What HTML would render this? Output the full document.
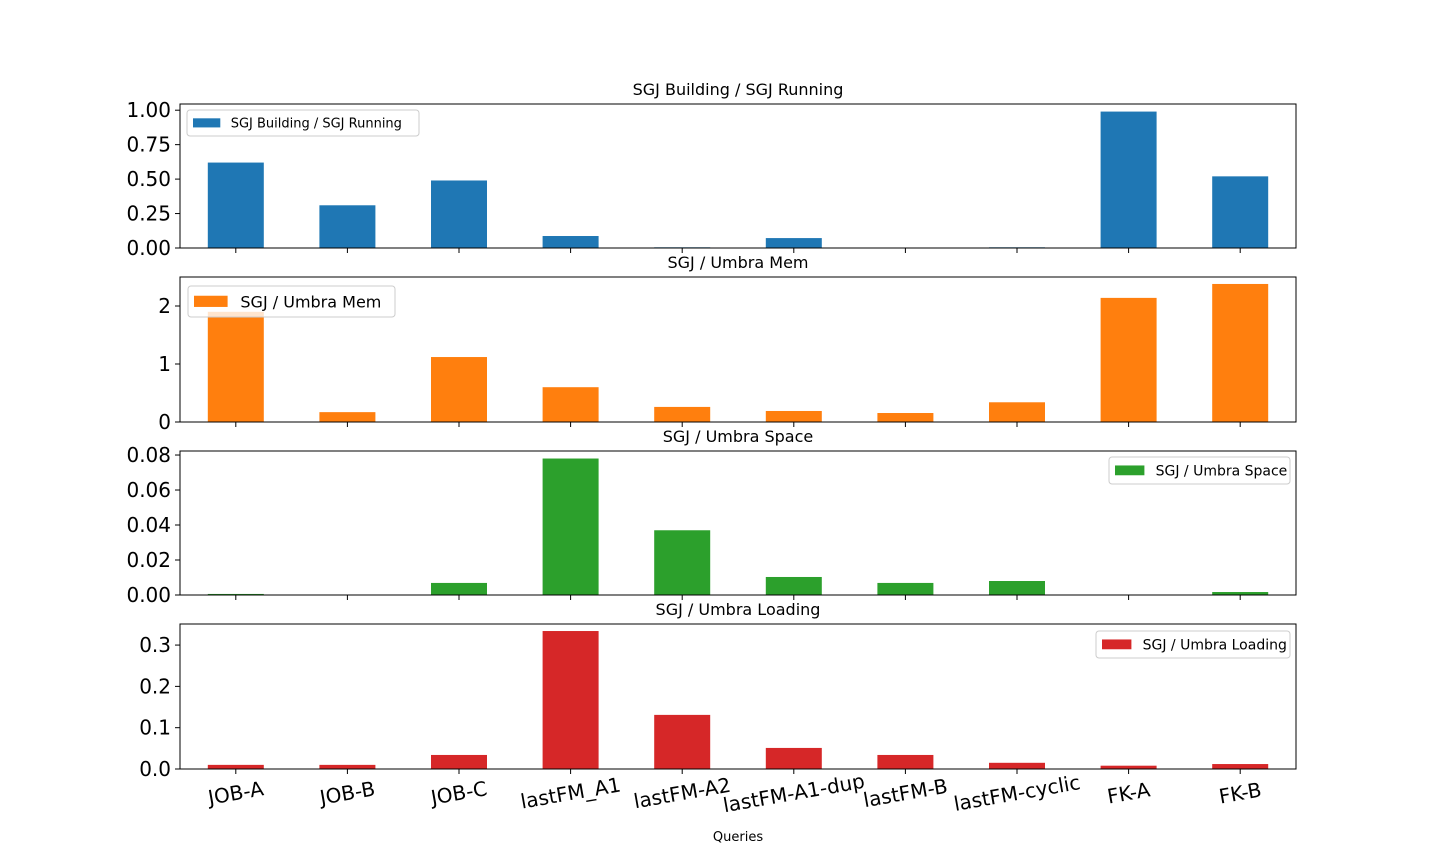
<!DOCTYPE html>
<html><head><meta charset="utf-8"><style>
html,body{margin:0;padding:0;background:#fff}
svg{display:block;font-family:"DejaVu Sans","Liberation Sans",sans-serif}
</style></head><body>
<svg id="chart" width="1440" height="864" viewBox="0 0 1440 864" xmlns="http://www.w3.org/2000/svg"></svg>
<script>
const categories = ["JOB-A","JOB-B","JOB-C","lastFM_A1","lastFM-A2","lastFM-A1-dup","lastFM-B","lastFM-cyclic","FK-A","FK-B"];
const buildingVsRunning = [0.62,0.31,0.49,0.087,0.005,0.072,0.0,0.005,0.99,0.52];
const umbraMem = [1.9,0.17,1.12,0.6,0.26,0.19,0.155,0.34,2.14,2.38];
const umbraSpace = [0.0006,0.0,0.0069,0.078,0.037,0.0103,0.0069,0.008,0.0002,0.0017];
const umbraLoading = [0.01,0.01,0.034,0.334,0.131,0.051,0.034,0.015,0.008,0.012];
const ticks1 = [0,0.25,0.5,0.75,1.0];
const tickLabels1 = ["0.00","0.25","0.50","0.75","1.00"];
const ticks2 = [0,1,2];
const tickLabels2 = ["0","1","2"];
const ticks3 = [0,0.02,0.04,0.06,0.08];
const tickLabels3 = ["0.00","0.02","0.04","0.06","0.08"];
const ticks4 = [0,0.1,0.2,0.3];
const tickLabels4 = ["0.0","0.1","0.2","0.3"];

const NS="http://www.w3.org/2000/svg";
const svg=document.getElementById('chart');
function mk(tag,attrs,parent){const e=document.createElementNS(NS,tag);for(const k in attrs)e.setAttribute(k,attrs[k]);(parent||svg).appendChild(e);return e;}
const L=180,R=1296;
const step=(R-L)/categories.length;
function xc(i){return L+step*(i+0.5);}
const panels=[
 {name:"building-running",title:"SGJ Building / SGJ Running",vals:buildingVsRunning,ticks:ticks1,labels:tickLabels1,top:104,bot:248,max:1.045,color:"#1f77b4",tsize:16,leg:{x:187,y:110,w:232,h:26,fs:13,right:false}},
 {name:"umbra-mem",title:"SGJ / Umbra Mem",vals:umbraMem,ticks:ticks2,labels:tickLabels2,top:277,bot:422,max:2.5,color:"#ff7f0e",tsize:16,leg:{x:188,y:286,w:207,h:31,fs:16,right:false}},
 {name:"umbra-space",title:"SGJ / Umbra Space",vals:umbraSpace,ticks:ticks3,labels:tickLabels3,top:451,bot:595,max:0.0823,color:"#2ca02c",tsize:16,leg:{x:1109,y:457,w:181,h:27,fs:14,right:true}},
 {name:"umbra-loading",title:"SGJ / Umbra Loading",vals:umbraLoading,ticks:ticks4,labels:tickLabels4,top:624,bot:769,max:0.351,color:"#d62728",tsize:16,leg:{x:1096,y:631,w:194,h:27,fs:14,right:true}}
];
panels.forEach((p,pi)=>{
 const g=mk('g',{});
 
 
 const y=v=>p.bot-(v/p.max)*(p.bot-p.top);
 p.vals.forEach((v,i)=>{
  const r=mk('rect',{x:xc(i)-28,y:y(v),width:56,height:p.bot-y(v),fill:p.color},g);
  
  
 });
 mk('rect',{x:L,y:p.top,width:R-L,height:p.bot-p.top,fill:"none",stroke:"#000","stroke-width":1},g);
 p.ticks.forEach((t,i)=>{
  const ty=y(t);
  mk('line',{x1:L-5,x2:L,y1:ty,y2:ty,stroke:"#000"},g);
  const tx=mk('text',{x:L-9,y:ty+7,"text-anchor":"end","font-size":20},g);
  tx.textContent=p.labels[i];
  
  
 });
 categories.forEach((c,i)=>{mk('line',{x1:xc(i),x2:xc(i),y1:p.bot,y2:p.bot+5,stroke:"#000"},g);});
 const tt=mk('text',{x:(L+R)/2,y:p.top-9,"text-anchor":"middle","font-size":p.tsize},g);
 tt.textContent=p.title;
 
 
 const lg=mk('g',{},g);
 
 
 const l=p.leg;
 mk('rect',{x:l.x,y:l.y,width:l.w,height:l.h,rx:3,fill:"rgba(255,255,255,0.8)",stroke:"#ccc"},lg);
 const sw=l.fs*2.1;
 mk('rect',{x:l.x+6,y:l.y+l.h/2-l.fs*0.36,width:sw,height:l.fs*0.7,fill:p.color},lg);
 const lt=mk('text',{x:l.x+6+sw+l.fs*0.8,y:l.y+l.h/2+l.fs*0.36,"font-size":l.fs},lg);
 lt.textContent=p.title;
});
categories.forEach((c,i)=>{
 const t=mk('text',{x:xc(i),y:800,"text-anchor":"middle","font-size":20,transform:`rotate(-10 ${xc(i)} 793)`});
 t.textContent=c;
 
 
});
const xl=mk('text',{x:(L+R)/2,y:841,"text-anchor":"middle","font-size":13});
xl.textContent="Queries";


</script>
</body></html>
